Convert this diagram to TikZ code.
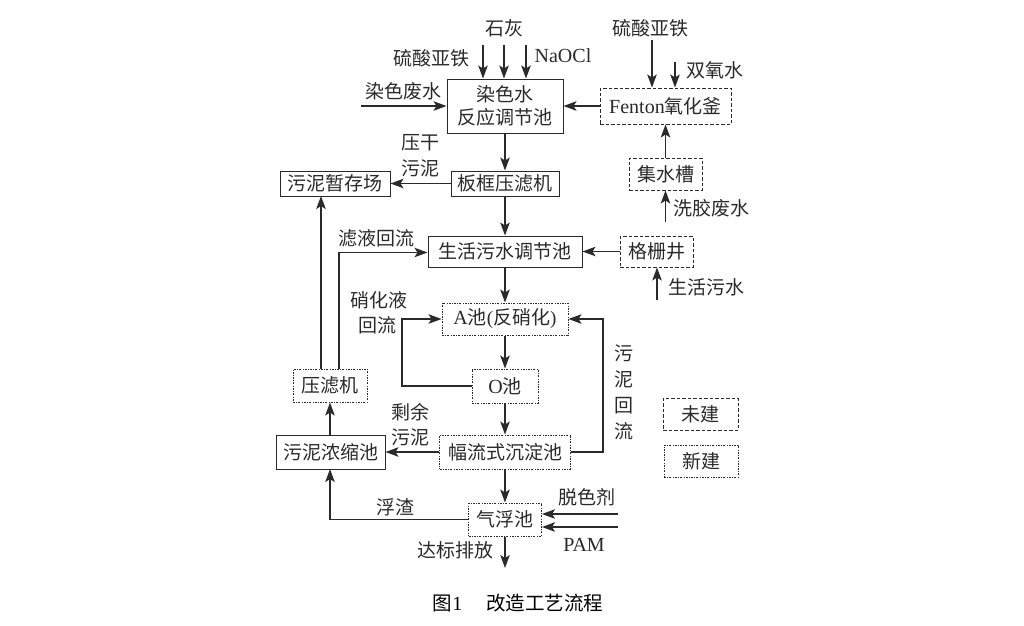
\documentclass[tikz,border=0pt]{standalone}
\usepackage{fontspec}
\setmainfont{Noto Sans CJK SC}
\newfontfamily\lat{Liberation Serif}
\usetikzlibrary{arrows.meta}
\definecolor{ink}{HTML}{2A2A2A}
\tikzset{
  fs/.style={font=\fontsize{19}{23}\selectfont, text=ink},
  box/.style={draw=ink, line width=1pt, inner sep=0pt, fs, align=center},
  newb/.style={box, dash pattern=on 2pt off 1.4pt on 0.6pt off 1.4pt},
  unb/.style={box, dash pattern=on 3.5pt off 2pt},
  arr/.style={draw=ink, line width=1.2pt, -{Stealth[length=13pt,width=9.5pt,inset=3pt]}},
  lab/.style={fs, inner sep=0pt},
  latf/.style={font=\lat\fontsize{20}{23}\selectfont},
}
\begin{document}
\begin{tikzpicture}[x=1pt,y=-1pt]
\useasboundingbox (0,0) rectangle (1024,625);
% boxes
\node[box, minimum width=116pt, minimum height=54pt] (r1) at (505,106) {染色水\\反应调节池};
\node[unb, minimum width=131pt, minimum height=36pt] (fen) at (665.5,106) {{\lat\fontsize{20}{23}\selectfont Fenton}氧化釜};
\node[box, minimum width=108pt, minimum height=25pt] (ban) at (505,183.5) {板框压滤机};
\node[box, minimum width=110pt, minimum height=25pt] (zc) at (335,183.5) {污泥暂存场};
\node[unb, minimum width=73pt, minimum height=32pt] (jsc) at (665.5,174) {集水槽};
\node[box, minimum width=154pt, minimum height=31pt] (sh) at (505,251.5) {生活污水调节池};
\node[unb, minimum width=73pt, minimum height=31pt] (gsj) at (656.5,251.5) {格栅井};
\node[newb, minimum width=126pt, minimum height=32pt] (A) at (505,319) {{\lat\fontsize{20}{23}\selectfont A}池{\lat (}反硝化{\lat )}};
\node[newb, minimum width=66pt, minimum height=34pt] (O) at (505,386) {{\lat\fontsize{20}{23}\selectfont O}池};
\node[newb, minimum width=131pt, minimum height=34pt] (fl) at (505,452) {幅流式沉淀池};
\node[newb, minimum width=74pt, minimum height=33pt] (ylj) at (330,385.5) {压滤机};
\node[box, minimum width=109pt, minimum height=34pt] (nss) at (330.5,452) {污泥浓缩池};
\node[newb, minimum width=73pt, minimum height=33pt] (qf) at (505,519.5) {气浮池};
\node[unb, minimum width=75pt, minimum height=32pt] (lg1) at (700.5,414) {未建};
\node[newb, minimum width=74pt, minimum height=32pt] (lg2) at (701,461) {新建};
% free ends
\coordinate (c1) at (483,45);
\coordinate (c2) at (504,45);
\coordinate (c3) at (526,45);
\coordinate (c4) at (361,106);
\coordinate (c5) at (652,40);
\coordinate (c6) at (675,62);
\coordinate (c7) at (665.5,222);
\coordinate (c8) at (657,300);
\coordinate (c9) at (505,568);
\coordinate (c10) at (618,514);
\coordinate (c11) at (618,527);
% arrows
\draw[arr] (c1) -- (c1 |- r1.north);
\draw[arr] (c2) -- (c2 |- r1.north);
\draw[arr] (c3) -- (c3 |- r1.north);
\draw[arr] (c4) -- (r1.west);
\draw[arr] (fen.west) -- (r1.east);
\draw[arr] (c5) -- (c5 |- fen.north);
\draw[arr] (c6) -- (c6 |- fen.north);
\draw[arr] (jsc.north) -- (fen.south);
\draw[arr] (c7) -- (jsc.south);
\draw[arr] (r1.south) -- (ban.north);
\draw[arr] (ban.west) -- (zc.east);
\draw[arr] (ban.south) -- (sh.north);
\draw[arr] (gsj.west) -- (sh.east);
\draw[arr] (c8) -- (gsj.south -| c8);
\draw[arr] (sh.south) -- (A.north);
\draw[arr] (A.south) -- (O.north);
\draw[arr] (O.south) -- (fl.north);
\draw[arr] (fl.south) -- (qf.north);
\draw[arr] (qf.south) -- (c9);
\draw[arr] (O.west) -- (402,386) -- (402,319) -- (A.west);
\draw[arr] (fl.east) -- (603,452) -- (603,319) -- (A.east);
\draw[arr] (fl.west) -- (nss.east);
\draw[arr] (nss.north -| ylj.south) -- (ylj.south);
\draw[arr] (321,369) -- (321,196);
\draw[arr] (339,369) -- (339,252.5) -- (sh.west |- 0,252.5);
\draw[arr] (qf.west) -- (330,519.5) -- (330,469);
\draw[arr] (c10) -- (qf.east |- c10);
\draw[arr] (c11) -- (qf.east |- c11);
% labels
\node[lab] (t1) at (504,28) {石灰};
\node[lab] (t2) at (431,58) {硫酸亚铁};
\node[lab, latf] (t3) at (563,56) {NaOCl};
\node[lab] (t4) at (403,91) {染色废水};
\node[lab] (t5) at (650,28) {硫酸亚铁};
\node[lab] (t6) at (715,70) {双氧水};
\node[lab] (t7) at (420,143) {压干};
\node[lab] (t8) at (420,168) {污泥};
\node[lab] (t9) at (711,208) {洗胶废水};
\node[lab] (t10) at (376,238) {滤液回流};
\node[lab] (t11) at (706,287) {生活污水};
\node[lab] (t12) at (379,300) {硝化液};
\node[lab] (t13) at (377,325) {回流};
\node[lab, align=center, font=\fontsize{19}{26}\selectfont] (t14) at (624,392) {污\\泥\\回\\流};
\node[lab] (t15) at (410,412) {剩余};
\node[lab] (t16) at (410,437) {污泥};
\node[lab] (t17) at (395,507) {浮渣};
\node[lab] (t18) at (587,497) {脱色剂};
\node[lab, latf] (t19) at (584,545) {PAM};
\node[lab] (t20) at (455,550) {达标排放};
\node[lab, font=\fontsize{19.5}{23}\selectfont, text=black] (cap) at (518,603) {图{\lat\fontsize{20}{23}\selectfont 1}\hspace{24pt}改造工艺流程};
\end{tikzpicture}
\end{document}
